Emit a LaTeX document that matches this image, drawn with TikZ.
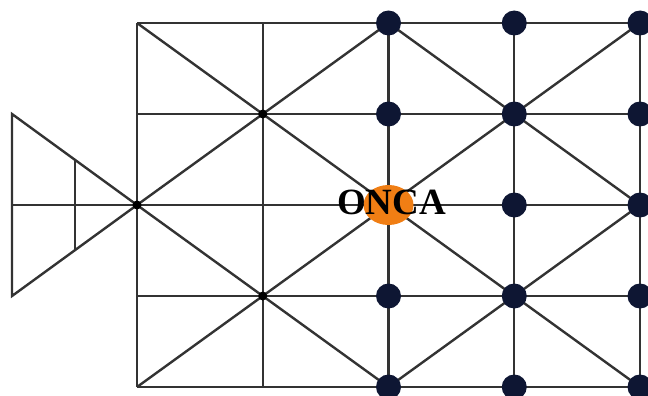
\documentclass[tikz,border=0pt]{standalone}
\usepackage{fontspec}
\setmainfont{Liberation Serif}
\usetikzlibrary{shapes.geometric}
\definecolor{azulpieza}{HTML}{0E1633}
\definecolor{naranja}{HTML}{F07E14}
\begin{document}
\begin{tikzpicture}[
  x=1pt, y=-1pt,
  linea/.style={draw=black!80, line width=2.4pt},
  pieza/.style={circle, fill=azulpieza, draw=none, inner sep=0pt, minimum size=25pt},
  cruce/.style={circle, fill=black, draw=none, inner sep=0pt, minimum size=9pt},
  onca/.style={ellipse, fill=naranja, draw=none, inner sep=0pt, minimum width=50pt, minimum height=40pt},
  letrero/.style={font=\fontsize{37}{37}\selectfont\bfseries, text=black, inner sep=0pt}
]
  \useasboundingbox (0,0) rectangle (648,396);

  % Puntos del tablero (5 columnas x 5 filas)
  \foreach \i in {0,...,4}
    \foreach \j in {0,...,4}
      \coordinate (g\i\j) at ({137+125.75*\i},{23+91*\j});

  % Puntos del triángulo de la izquierda
  \coordinate (t1) at (12,114);
  \coordinate (t0) at (12,205);
  \coordinate (t2) at (12,296);
  \coordinate (m1) at (75,160);
  \coordinate (m2) at (75,250);

  % Líneas horizontales y verticales
  \foreach \j in {0,...,4}
    \draw[linea] (g0\j) -- (g4\j);
  \foreach \i in {0,...,4}
    \draw[linea] (g\i0) -- (g\i4);

  % Diagonales
  \draw[linea] (g00) -- (g44);
  \draw[linea] (g04) -- (g40);
  \draw[linea] (g02) -- (g20) -- (g42) -- (g24) -- cycle;

  % Triángulo
  \draw[linea] (g02) -- (t1) -- (t2) -- cycle;
  \draw[linea] (t0) -- (g02);
  \draw[linea] (m1) -- (m2);

  % Cruces marcados
  \node[cruce] (c11) at (g11) {};
  \node[cruce] (c02) at (g02) {};
  \node[cruce] (c13) at (g13) {};

  % Piezas
  \foreach \j in {0,1,3,4}
    \node[pieza] (p2\j) at (g2\j) {};
  \foreach \i in {3,4}
    \foreach \j in {0,...,4}
      \node[pieza] (p\i\j) at (g\i\j) {};

  % La onça
  \node[onca] (onca) at (g22) {};
  \node[letrero] (nombre) at ([xshift=3pt, yshift=3pt]g22) {ONCA};

\end{tikzpicture}
\end{document}
